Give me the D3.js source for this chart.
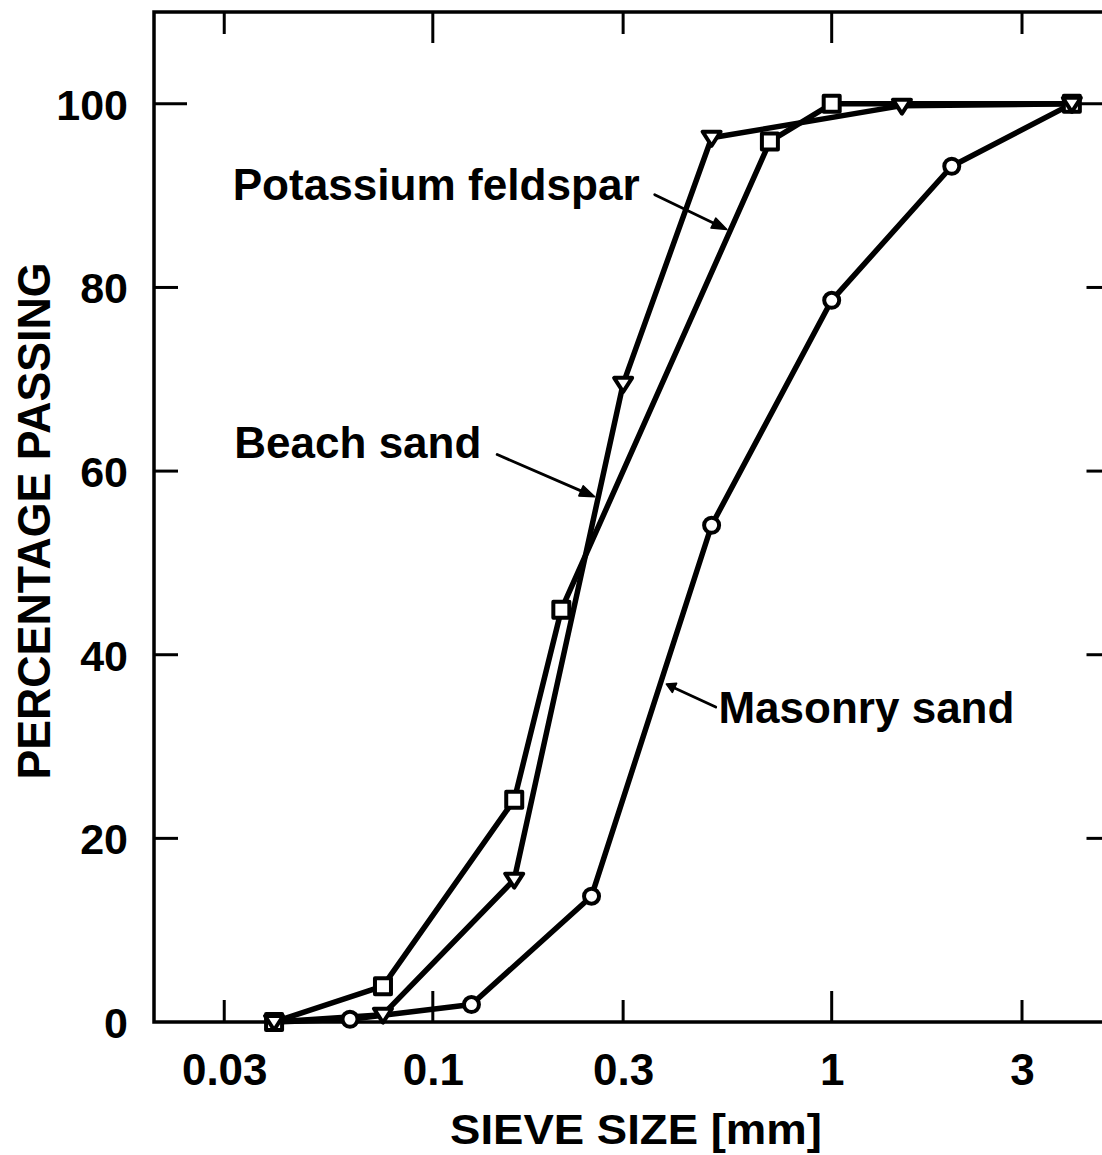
<!DOCTYPE html>
<html>
<head>
<meta charset="utf-8">
<script src="https://cdn.jsdelivr.net/npm/d3@7"></script>
<style>
  html, body { margin: 0; padding: 0; background: #fff; }
  svg { display: block; }
  text { font-family: "Liberation Sans", Arial, sans-serif; font-weight: bold; fill: #000; }
</style>
</head>
<body>
<svg id="chart" width="1102" height="1155"></svg>
<script>
// Grain-size distribution (percentage passing vs sieve size, log scale)

// Series: inverted-triangle markers
const sieveTriangle = [0.04, 0.075, 0.16, 0.30, 0.50, 1.5, 4.0];
const passTriangle  = [0, 0.8, 15.5, 69.5, 96.3, 99.8, 100];

// Series: square markers
const sieveSquare = [0.04, 0.075, 0.16, 0.21, 0.70, 1.0, 4.0];
const passSquare  = [0, 3.9, 24.2, 44.9, 95.9, 100, 100];

// Series: circle markers
const sieveCircle = [0.04, 0.062, 0.125, 0.25, 0.50, 1.0, 2.0, 4.0];
const passCircle  = [0, 0.3, 1.9, 13.7, 54.1, 78.6, 93.2, 100];

// Axis ticks
const xTicks = [0.03, 0.1, 0.3, 1, 3];
const xTickLabels = ["0.03", "0.1", "0.3", "1", "3"];
const yTicks = [0, 20, 40, 60, 80, 100];

// Labels with leader arrows: text anchor and arrow tip in data units
const noteText  = ["Potassium  feldspar", "Beach  sand", "Masonry  sand"];
const noteAtX   = [0.0315, 0.0318, 0.52];
const noteAtY   = [89.5, 61.4, 32.6];
const noteFromX = [0.36, 0.145, 0.512];
const noteFromY = [90.1, 61.8, 34.3];
const noteTipX  = [0.546, 0.2547, 0.385];
const noteTipY  = [86.3, 57.2, 36.8];
const noteWidth = [407, 247, 296];

const svg = d3.select("#chart");

const x = d3.scaleLog().domain([0.02, 5]).range([154, 1110.5]);
const y = d3.scaleLinear().domain([0, 110]).range([1022, 12]);

const x0 = x.range()[0], x1 = x.range()[1];
const y0 = y.range()[0], y1 = y.range()[1];

// Frame
svg.append("rect")
  .attr("x", x0).attr("y", y1)
  .attr("width", x1 - x0).attr("height", y0 - y1)
  .attr("fill", "none").attr("stroke", "#000").attr("stroke-width", 3.5);

// Inward ticks: decades longer than the 3x marks, 100% longer than other percents
const isDecade = v => Math.abs(Math.log10(v) - Math.round(Math.log10(v))) < 1e-6;
const tickG = svg.append("g").attr("stroke", "#000").attr("stroke-width", 3);
xTicks.forEach(v => {
  const len = isDecade(v) ? 31 : 22;
  tickG.append("line").attr("x1", x(v)).attr("x2", x(v)).attr("y1", y0).attr("y2", y0 - len);
  tickG.append("line").attr("x1", x(v)).attr("x2", x(v)).attr("y1", y1).attr("y2", y1 + len);
});
yTicks.filter(v => v > 0).forEach(v => {
  const len = v === 100 ? 33 : 24;
  tickG.append("line").attr("x1", x0).attr("x2", x0 + len).attr("y1", y(v)).attr("y2", y(v));
  tickG.append("line").attr("x1", x1).attr("x2", x1 - len).attr("y1", y(v)).attr("y2", y(v));
});

// Axis labels drawn with d3 axes (tick lines suppressed; drawn above)
const xAxis = d3.axisBottom(x).tickValues(xTicks)
  .tickFormat((d, i) => xTickLabels[i]).tickSize(0).tickPadding(0);
const gx = svg.append("g").attr("transform", `translate(0,${y0})`).call(xAxis);
gx.select(".domain").remove();
gx.selectAll("text").attr("font-size", 44).attr("dy", null).attr("y", 63)
  .style("font-family", "'Liberation Sans', Arial, sans-serif").style("font-weight", "bold")
  .attr("fill", "#000");

const yAxis = d3.axisLeft(y).tickValues(yTicks).tickSize(0).tickPadding(0);
const gy = svg.append("g").attr("transform", `translate(${x0},0)`).call(yAxis);
gy.select(".domain").remove();
gy.selectAll("text").attr("font-size", 43).attr("x", -26).attr("dy", "0.36em")
  .style("font-family", "'Liberation Sans', Arial, sans-serif").style("font-weight", "bold")
  .attr("fill", "#000");

// Axis titles
svg.append("text")
  .attr("x", 636).attr("y", 1144).attr("text-anchor", "middle")
  .attr("font-size", 42).attr("textLength", 372).attr("lengthAdjust", "spacingAndGlyphs")
  .text("SIEVE  SIZE  [mm]");
svg.append("text")
  .attr("transform", "translate(50,521) rotate(-90)").attr("text-anchor", "middle")
  .attr("font-size", 46).attr("textLength", 517).attr("lengthAdjust", "spacingAndGlyphs")
  .text("PERCENTAGE  PASSING");

// Data lines
const series = [
  { xs: sieveCircle, ys: passCircle, shape: "circle" },
  { xs: sieveSquare, ys: passSquare, shape: "square" },
  { xs: sieveTriangle, ys: passTriangle, shape: "triangle" }
];
const line = d3.line().x(d => x(d[0])).y(d => y(d[1]));
series.forEach(s => {
  s.pts = s.xs.map((v, i) => [v, s.ys[i]]);
  svg.append("path").datum(s.pts).attr("d", line)
    .attr("fill", "none").attr("stroke", "#000").attr("stroke-width", 5.5)
    .attr("stroke-linejoin", "round").attr("stroke-linecap", "round");
});

// Markers
const symbolPath = {
  circle: d3.symbol(d3.symbolCircle, Math.PI * 7.5 * 7.5)(),
  square: d3.symbol(d3.symbolSquare, 16 * 16)(),
  triangle: "M-9,-6L9,-6L0,8Z"
};
series.forEach(s => {
  svg.append("g").selectAll("path").data(s.pts).join("path")
    .attr("transform", d => `translate(${x(d[0])},${y(d[1])})`)
    .attr("d", symbolPath[s.shape])
    .attr("fill", "#fff").attr("stroke", "#000").attr("stroke-width", 4)
    .attr("stroke-linejoin", "round");
});

// Annotations with leader arrows
const noteG = svg.append("g");
noteText.forEach((t, i) => {
  noteG.append("text")
    .attr("x", x(noteAtX[i])).attr("y", y(noteAtY[i]))
    .attr("font-size", 44).attr("textLength", noteWidth[i]).attr("lengthAdjust", "spacingAndGlyphs")
    .text(t);
  const fx = x(noteFromX[i]), fy = y(noteFromY[i]);
  const tx = x(noteTipX[i]), ty = y(noteTipY[i]);
  const ang = Math.atan2(ty - fy, tx - fx);
  const hl = i === 2 ? 9 : 15, hw = i === 2 ? 5 : 5.5;
  const bx = tx - hl * Math.cos(ang), by = ty - hl * Math.sin(ang);
  noteG.append("line").attr("x1", fx).attr("y1", fy).attr("x2", bx).attr("y2", by)
    .attr("stroke", "#000").attr("stroke-width", 2.8).attr("stroke-linecap", "round");
  const px = -Math.sin(ang) * hw, py = Math.cos(ang) * hw;
  noteG.append("path")
    .attr("d", `M${tx},${ty}L${bx + px},${by + py}L${bx - px},${by - py}Z`)
    .attr("fill", "#000").attr("stroke", "#000").attr("stroke-width", 1.5)
    .attr("stroke-linejoin", "round");
});
</script>
</body>
</html>
